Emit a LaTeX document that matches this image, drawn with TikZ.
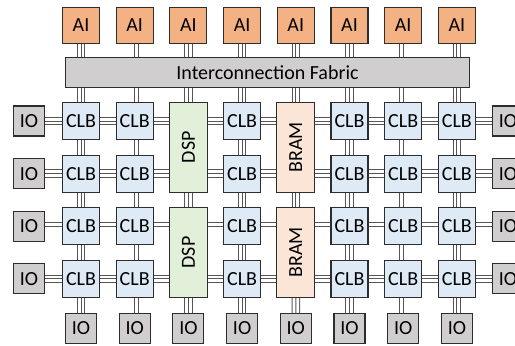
\documentclass[tikz,border=0pt]{standalone}
\usepackage{fontspec}
\setmainfont{Carlito}
\usepackage{graphicx}
\definecolor{aiorange}{RGB}{244,177,131}
\definecolor{clbblue}{RGB}{222,235,247}
\definecolor{dspgreen}{RGB}{226,240,217}
\definecolor{bramtan}{RGB}{251,229,214}
\definecolor{iogray}{RGB}{208,206,206}
\definecolor{edge}{RGB}{45,45,45}
\definecolor{wire}{RGB}{85,85,85}
\usetikzlibrary{backgrounds}

\begin{document}
\begin{tikzpicture}[x=1pt, y=-1pt,
	every node/.style={font=\fontsize{20}{24}\selectfont, inner sep=0pt},
	block/.style={draw=edge, line width=1.1pt},
	ai/.style={block, fill=aiorange, minimum width=37pt, minimum height=36pt},
	clb/.style={block, fill=clbblue, minimum width=37pt, minimum height=37pt},
	tall/.style={block, minimum width=38pt, minimum height=90pt},
	io/.style={block, fill=iogray, minimum width=31pt, minimum height=30pt},
	bus/.style={draw=wire, line width=0.9pt,
		preaction={draw=wire, line width=8.4pt},
		preaction={draw=white, line width=6.6pt}}]
	\useasboundingbox (0,0) rectangle (515,346);
	\clip (0,0) rectangle (515,346);

	% AI tiles and the fabric under them
	\foreach \c in {1,...,8}
		\node[ai] (ai-\c) at ({81+53.7*(\c-1)}, 25.5) {AI};
	\node[block, fill=iogray, minimum width=404pt, minimum height=30pt] (fab) at (267.5,72.5) {Interconnection Fabric};

	% logic blocks
	\foreach \c in {1,2,4,6,7,8}
		\foreach \r in {1,...,4}
			\node[clb] (b-\c-\r) at ({81+53.7*(\c-1)}, {121+52.6*(\r-1)}) {CLB};

	% DSP and BRAM span two rows each
	\node[tall, fill=dspgreen, alias=b-3-2] (b-3-1) at (188.4,147.3) {\rotatebox{90}{DSP}};
	\node[tall, fill=dspgreen, alias=b-3-4] (b-3-3) at (188.4,252.5) {\rotatebox{90}{DSP}};
	\node[tall, fill=bramtan, alias=b-5-2] (b-5-1) at (295.8,147.3) {\rotatebox{90}{BRAM}};
	\node[tall, fill=bramtan, alias=b-5-4] (b-5-3) at (295.8,252.5) {\rotatebox{90}{BRAM}};

	% IO pads
	\foreach \r in {1,...,4} {
		\node[io] (b-0-\r) at (29, {121+52.6*(\r-1)}) {IO};
		\node[io] (b-9-\r) at (508, {121+52.6*(\r-1)}) {IO};
	}
	\foreach \c in {1,...,8}
		\node[io] (io-\c) at ({81+53.7*(\c-1)}, 328.5) {IO};

	% routing
	\begin{scope}[on background layer]
		\foreach \c in {1,...,8} {
			\draw[bus] (ai-\c.south) -- (ai-\c.south |- fab.north);
			\draw[bus] (b-\c-1.north |- fab.south) -- (b-\c-1.north);
			\draw[bus] (b-\c-4.south) -- (io-\c.north);
		}
		\foreach \r in {1,2,3,4}
			\foreach \a/\b in {0/1,1/2,2/3,3/4,4/5,5/6,6/7,7/8,8/9}
				\draw[bus] (b-\a-\r.east |- b-1-\r.center) -- (b-\b-\r.west |- b-1-\r.center);
		\foreach \c in {1,2,4,6,7,8}
			\foreach \r/\s in {1/2,2/3,3/4}
				\draw[bus] (b-\c-\r.south) -- (b-\c-\s.north);
		\draw[bus] (b-3-1.south) -- (b-3-3.north);
		\draw[bus] (b-5-1.south) -- (b-5-3.north);
	\end{scope}
\end{tikzpicture}
\end{document}
